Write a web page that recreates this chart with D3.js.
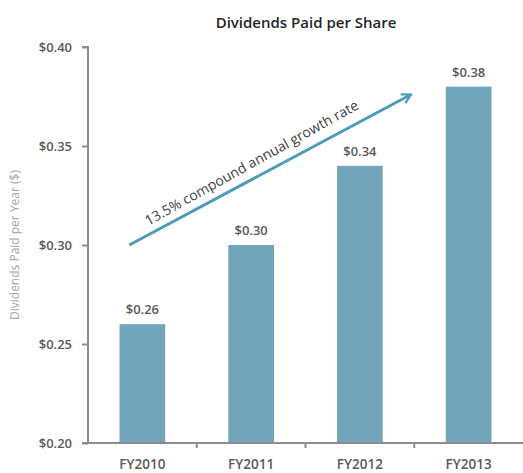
<!DOCTYPE html>
<html lang="en">
<head>
  <meta charset="utf-8">
  <title>Dividends Paid per Share</title>
  <script src="https://cdnjs.cloudflare.com/ajax/libs/d3/7.8.5/d3.min.js"></script>
  <style>
    body { margin: 0; background: #fff; }
    svg { display: block; font-family: "Open Sans", sans-serif; }
    .axis path, .axis line { stroke: #8c8c8c; stroke-width: 2; }
    .axis text { fill: #595959; font-size: 13px; font-weight: 600; font-family: "Open Sans", sans-serif; }
  </style>
</head>
<body>
<svg id="chart"></svg>
<script>
var years = ["FY2010", "FY2011", "FY2012", "FY2013"];
var dividends = [0.26, 0.30, 0.34, 0.38];
var yTicks = [0.20, 0.25, 0.30, 0.35, 0.40];
var growthLabel = "13.5% compound annual growth rate";
// arrow annotation: [category, offset within band, value]
var arrowFrom = ["FY2010", 0.38, 0.300];
var arrowTo = ["FY2013", -0.03, 0.376];

var w = 523, h = 473;
var mLeft = 88, mRight = 523, mTop = 47, mBottom = 443;

var svg = d3.select("#chart").attr("width", w).attr("height", h);

var x = d3.scaleBand().domain(years).range([mLeft, mRight]).paddingInner(0.58).paddingOuter(0.29);
var xBand = d3.scaleBand().domain(years).range([mLeft, mRight]);
var y = d3.scaleLinear().domain([0.20, 0.40]).range([mBottom, mTop]);

// bars
svg.selectAll("rect.bar").data(years)
  .enter().append("rect")
  .attr("class", "bar")
  .attr("x", function(d) { return x(d); })
  .attr("y", function(d, i) { return y(dividends[i]); })
  .attr("width", x.bandwidth())
  .attr("height", function(d, i) { return y(0.20) - y(dividends[i]); })
  .attr("fill", "#72a4ba");

// value labels
svg.selectAll("text.val").data(years)
  .enter().append("text")
  .attr("class", "val")
  .attr("x", function(d) { return x(d) + x.bandwidth() / 2; })
  .attr("y", function(d, i) { return y(dividends[i]) - 10; })
  .attr("text-anchor", "middle")
  .attr("fill", "#595959")
  .style("font-size", "13px")
  .style("font-weight", "600")
  .text(function(d, i) { return "$" + dividends[i].toFixed(2); });

// y axis
var yAxis = d3.axisLeft(y).tickValues(yTicks).tickSize(6).tickPadding(10)
  .tickFormat(function(d) { return "$" + d.toFixed(2); });
var gy = svg.append("g").attr("class", "axis")
  .attr("transform", "translate(" + mLeft + ",0)")
  .call(yAxis);
gy.select(".domain").attr("d", "M-6," + y(0.40) + "H0V" + y(0.20));

// x axis
var xAxis = d3.axisBottom(xBand).tickSize(0).tickPadding(16);
var gx = svg.append("g").attr("class", "axis")
  .attr("transform", "translate(0," + mBottom + ")")
  .call(xAxis);
gx.selectAll(".tick text").style("font-size", "13.5px");
gx.select(".domain").attr("d", "M" + (mLeft - 6) + ",0H" + mRight);
gx.selectAll(".sep").data(years.slice(1))
  .enter().append("line")
  .attr("class", "sep")
  .attr("x1", function(d) { return xBand(d); })
  .attr("x2", function(d) { return xBand(d); })
  .attr("y1", 0).attr("y2", 5);

// title
svg.append("text")
  .attr("x", 306).attr("y", 28)
  .attr("text-anchor", "middle")
  .attr("fill", "#262626")
  .style("font-size", "15px")
  .style("font-weight", "600")
  .text("Dividends Paid per Share");

// y axis title
svg.append("text")
  .attr("transform", "translate(19," + ((mTop + mBottom) / 2) + ") rotate(-90)")
  .attr("text-anchor", "middle")
  .attr("fill", "#a6a6a6")
  .style("font-size", "12px")
  .text("Dividends Paid per Year ($)");

// growth arrow
svg.append("defs").append("marker")
  .attr("id", "head")
  .attr("viewBox", "-10 -6 12 12")
  .attr("refX", 0).attr("refY", 0)
  .attr("markerWidth", 12).attr("markerHeight", 12)
  .attr("markerUnits", "userSpaceOnUse")
  .attr("orient", "auto")
  .append("path")
  .attr("d", "M-9,-5L0,0L-9,5")
  .attr("fill", "none")
  .attr("stroke", "#4b9cba")
  .attr("stroke-width", 2.2);

var x1 = xBand(arrowFrom[0]) + arrowFrom[1] * xBand.bandwidth(), y1 = y(arrowFrom[2]);
var x2 = xBand(arrowTo[0]) + arrowTo[1] * xBand.bandwidth(), y2 = y(arrowTo[2]);
svg.append("line")
  .attr("x1", x1).attr("y1", y1)
  .attr("x2", x2).attr("y2", y2)
  .attr("stroke", "#4b9cba")
  .attr("stroke-width", 3)
  .attr("marker-end", "url(#head)");

var angle = Math.atan2(y2 - y1, x2 - x1) * 180 / Math.PI;
var mx = x1 + (x2 - x1) * 0.46, my = y1 + (y2 - y1) * 0.46;
svg.append("text")
  .attr("transform", "translate(" + mx + "," + my + ") rotate(" + (angle - 1) + ")")
  .attr("y", -10)
  .attr("text-anchor", "middle")
  .attr("fill", "#404040")
  .style("font-size", "14px")
  .text(growthLabel);
</script>
</body>
</html>
